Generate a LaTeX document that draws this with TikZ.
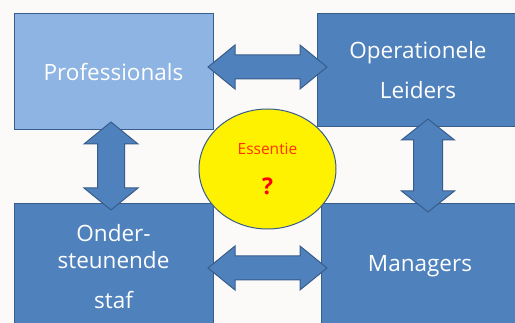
\documentclass[tikz,border=0pt]{standalone}
\usepackage{fontspec}
\setmainfont{Open Sans}
\usetikzlibrary{shapes.geometric,calc}
\definecolor{boxblue}{RGB}{79,129,189}
\definecolor{lightblue}{RGB}{142,180,227}
\definecolor{edgeblue}{RGB}{56,93,138}
\definecolor{bgwhite}{RGB}{251,250,248}
\definecolor{essred}{RGB}{255,51,0}

% horizontal double arrow: #1 left tip, #2 right tip, #3 head half width, #4 head length, #5 shaft half width
\newcommand{\harrow}[5]{%
  \path[dblarrow] let \p1=(#1), \p2=(#2) in
    (\x1,\y1) -- (\x1+#4,\y1+#3) -- (\x1+#4,\y1+#5) -- (\x2-#4,\y1+#5) -- (\x2-#4,\y1+#3) -- (\x2,\y1)
    -- (\x2-#4,\y1-#3) -- (\x2-#4,\y1-#5) -- (\x1+#4,\y1-#5) -- (\x1+#4,\y1-#3) -- cycle;}
% vertical double arrow: #1 top tip, #2 bottom tip
\newcommand{\varrow}[5]{%
  \path[dblarrow] let \p1=(#1), \p2=(#2) in
    (\x1,\y1) -- (\x1+#3,\y1-#4) -- (\x1+#5,\y1-#4) -- (\x1+#5,\y2+#4) -- (\x1+#3,\y2+#4) -- (\x1,\y2)
    -- (\x1-#3,\y2+#4) -- (\x1-#5,\y2+#4) -- (\x1-#5,\y1-#4) -- (\x1-#3,\y1-#4) -- cycle;}

\begin{document}
\begin{tikzpicture}[x=1pt, y=-1pt,
  box/.style={rectangle, draw=edgeblue, line width=1pt, fill=boxblue, text=white, align=center,
    inner sep=0pt, font=\fontsize{22.5}{27}\selectfont},
  dblarrow/.style={draw=edgeblue, line width=1pt, fill=boxblue, line join=miter}]
  \useasboundingbox (0,0) rectangle (515,323);
  \clip (0,0) rectangle (515,323);
  \fill[bgwhite] (0,0) rectangle (515,323);

  \node[box, fill=lightblue, minimum width=199pt, minimum height=116pt] (prof) at (113.5,72) {Professionals};
  \node[box, minimum width=202pt, minimum height=113pt] (oper) at (418,70.5) {Operationele\\[13pt]Leiders};
  \node[box, minimum width=199pt, minimum height=125pt] (staf) at (113.5,266.5) {Onder-\\steunende\\[13pt]staf};
  \node[box, minimum width=198pt, minimum height=125pt] (man) at (420,266.5) {Managers};

  % arrow tips
  \coordinate (ta) at (208,67);  \coordinate (tb) at (327,67);
  \coordinate (ba) at (208,268); \coordinate (bb) at (327,268);
  \coordinate (la) at (111,122); \coordinate (lb) at (111,210);
  \coordinate (ra) at (428,119); \coordinate (rb) at (428,212);

  \harrow{ta}{tb}{22pt}{27pt}{12pt}
  \harrow{ba}{bb}{22pt}{27pt}{12pt}
  \varrow{la}{lb}{27pt}{22pt}{13.5pt}
  \varrow{ra}{rb}{26.5pt}{21pt}{14.5pt}

  \node[ellipse, draw=edgeblue, line width=1pt, fill=yellow, minimum width=137pt, minimum height=120pt,
    inner sep=0pt, align=center] (core) at (267.5,169)
    {{\fontsize{15.5}{17}\selectfont\color{essred}Essentie}\\[23pt]{\bfseries\fontsize{23}{26}\selectfont\color{red}?}};
\end{tikzpicture}
\end{document}
